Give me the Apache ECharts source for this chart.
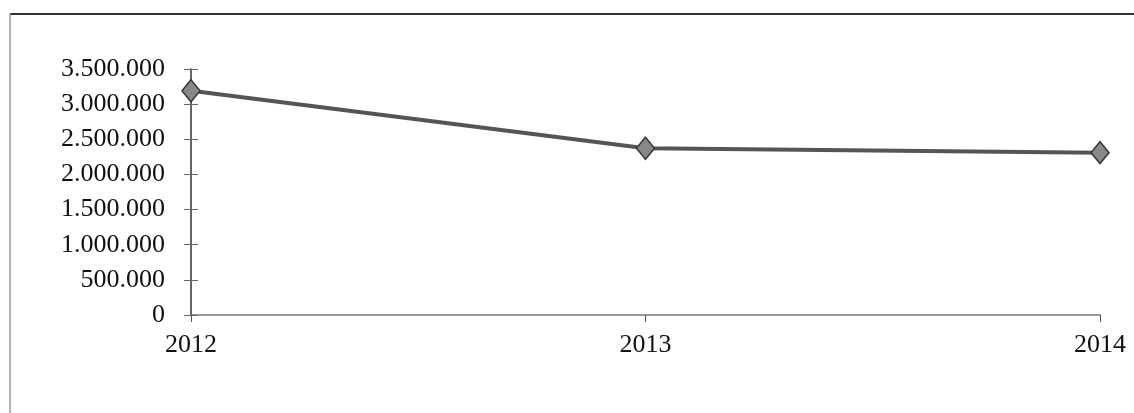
<!DOCTYPE html>
<html>
<head>
<meta charset="utf-8">
<script src="https://cdn.jsdelivr.net/npm/echarts@6/dist/echarts.min.js"></script>
<style>
  html, body { margin: 0; padding: 0; background: #fff; }
  #chart { width: 1134px; height: 413px; }
</style>
</head>
<body>
<div id="chart"></div>
<script>
// data
const years = ['2012', '2013', '2014'];
const totals = [3190000, 2372000, 2310000];
const yMax = 3500000;
const yStep = 500000;

const fmt = v => String(v).replace(/\B(?=(\d{3})+(?!\d))/g, '.');

const chart = echarts.init(document.getElementById('chart'));

const font = '"Liberation Serif", "DejaVu Serif", serif';

chart.setOption({
  animation: false,
  backgroundColor: '#fff',
  grid: { left: 191, right: 34, top: 69, bottom: 98 },
  graphic: [
    // scanned frame edges
    { type: 'line', shape: { x1: 10, y1: 14, x2: 1134, y2: 14 }, style: { stroke: '#333', lineWidth: 2 } },
    { type: 'line', shape: { x1: 10, y1: 14, x2: 10, y2: 413 }, style: { stroke: '#999', lineWidth: 1.5 } }
  ],
  xAxis: {
    type: 'category',
    data: years,
    boundaryGap: false,
    axisLine: { lineStyle: { color: '#777', width: 1.5, type: [3, 1] } },
    axisTick: { show: true, length: 7, lineStyle: { color: '#555' } },
    axisLabel: { color: '#111', fontFamily: font, fontSize: 26, margin: 17 },
    splitLine: { show: false }
  },
  yAxis: [{
    type: 'value',
    min: 0,
    max: yMax,
    interval: yStep,
    axisLine: { show: true, lineStyle: { color: '#333', width: 1.5 } },
    axisTick: { show: true, length: 7, lineStyle: { color: '#666' } },
    axisLabel: { color: '#111', fontFamily: font, fontSize: 26, margin: 26, formatter: fmt },
    splitLine: { show: false }
  }, {
    // second copy so the ticks cross the axis line like in the original
    type: 'value',
    position: 'left',
    min: 0,
    max: yMax,
    interval: yStep,
    axisLine: { show: false },
    axisTick: { show: true, inside: true, length: 7, lineStyle: { color: '#666' } },
    axisLabel: { show: false },
    splitLine: { show: false }
  }],
  series: [{
    type: 'line',
    data: totals,
    symbol: 'diamond',
    symbolSize: [18, 22],
    lineStyle: { color: '#555', width: 4 },
    itemStyle: { color: '#888', borderColor: '#333', borderWidth: 1.5 }
  }]
});
</script>
</body>
</html>
